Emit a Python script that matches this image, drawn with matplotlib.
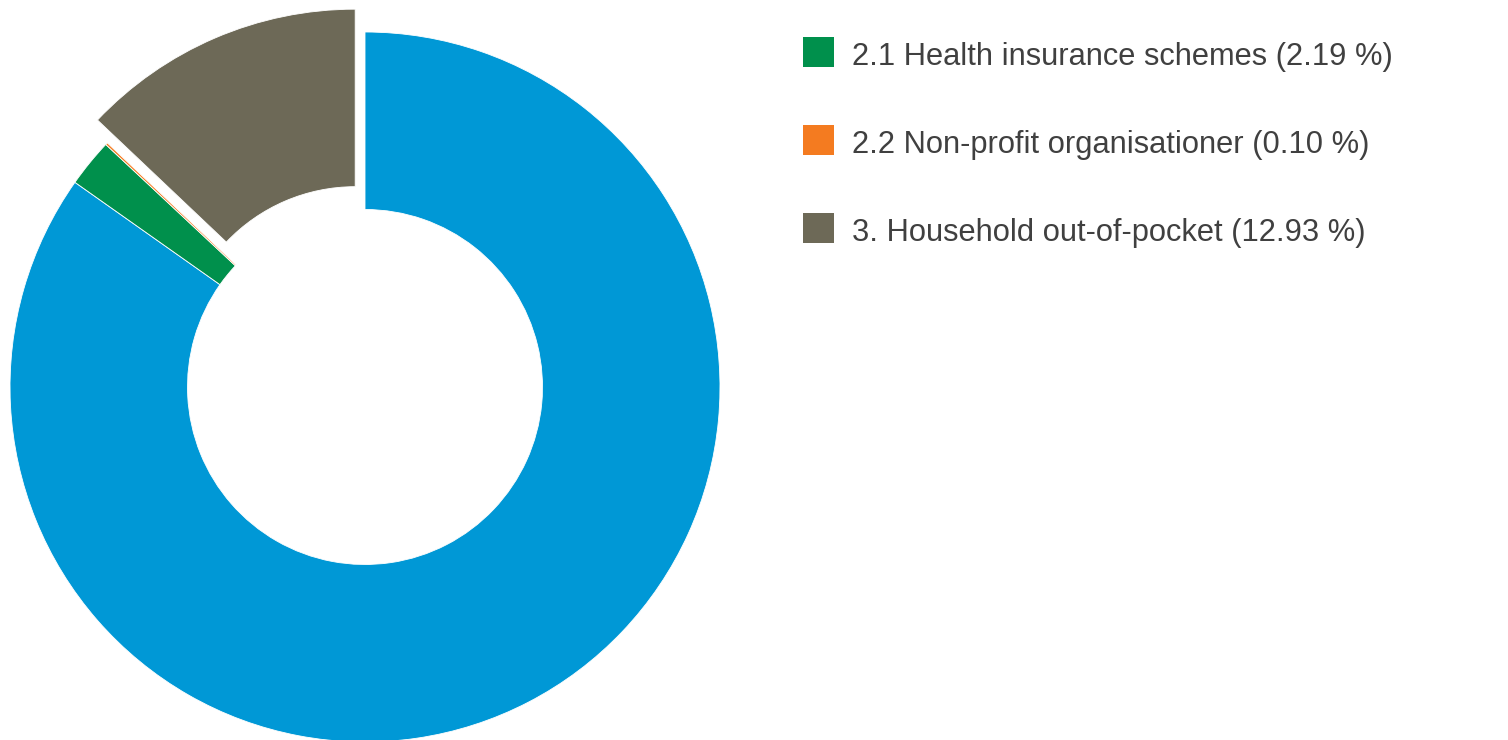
import matplotlib
matplotlib.use("Agg")
import matplotlib.pyplot as plt
from matplotlib.patches import Rectangle

# health expenditure by financing scheme, share of total (%)
labels = ["1. Government schemes", "2.1 Health insurance schemes",
          "2.2 Non-profit organisationer", "3. Household out-of-pocket"]
shares = [84.78, 2.19, 0.10, 12.93]
colors = ["#0098d6", "#00904c", "#f47b20", "#6d6957"]
explode = [0, 0, 0, 0.07]
legend_idx = [1, 2, 3]          # entries shown in the key

W, H = 1508, 740
fig = plt.figure(figsize=(W / 100, H / 100), dpi=100)
fig.patch.set_facecolor("white")

# donut: centre (365, 387) px, radius 355 px
cx, cy, R = 365, 387, 355
ax = fig.add_axes([0, 0, 730 / W, 1])
ax.pie(shares, colors=colors, explode=explode, startangle=90,
       counterclock=False, radius=1.0,
       wedgeprops=dict(width=0.5, edgecolor="white", linewidth=0.6))
ax.set_aspect("auto")
ax.set_xlim(-cx / R, (730 - cx) / R)
ax.set_ylim(-(H - cy) / R, cy / R)
ax.axis("off")

# key on the right
base0, dy = 65, 88
for k, i in enumerate(legend_idx):
    yb = base0 + k * dy
    fig.add_artist(Rectangle((803 / W, 1 - (yb + 2) / H), 31 / W, 30 / H,
                             transform=fig.transFigure, facecolor=colors[i],
                             edgecolor="none"))
    fig.text(852 / W, 1 - yb / H, f"{labels[i]} ({shares[i]:.2f} %)",
             ha="left", va="baseline", fontsize=22.2, color="#404040",
             family=["Liberation Sans", "DejaVu Sans"])

fig.savefig("out.png", dpi=100, facecolor="white")
